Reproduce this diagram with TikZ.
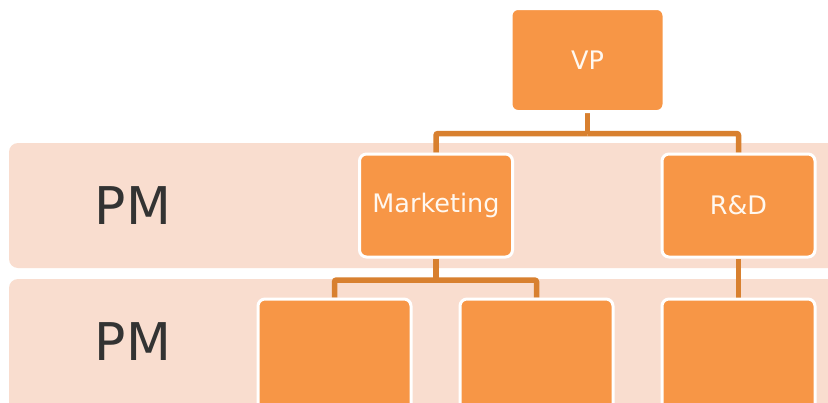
\documentclass[tikz,border=0pt]{standalone}
\usepackage{fontspec}
\setmainfont{DejaVu Sans}
\definecolor{boxor}{HTML}{F79646}
\definecolor{bandc}{HTML}{F9DDCF}
\definecolor{linec}{HTML}{D8802F}
\definecolor{pmtext}{HTML}{333333}
\definecolor{boxtext}{HTML}{FFF8F0}
\pgfdeclarelayer{bands}
\pgfdeclarelayer{lines}
\pgfsetlayers{bands,lines,main}
\tikzset{
  orgbox/.style={rectangle, rounded corners=7pt, fill=boxor, draw=white, line width=3pt,
    minimum width=153pt, minimum height=103pt, inner sep=0pt, text=boxtext,
    font=\fontsize{25.5}{29}\selectfont},
  lowbox/.style={orgbox, minimum height=112pt},
  conn/.style={draw=linec, line width=5.5pt, rounded corners=2pt},
  band/.style={fill=bandc, rounded corners=9pt},
  pmlabel/.style={text=pmtext, font=\fontsize{52}{60}\selectfont, inner sep=0pt}
}
\begin{document}
\begin{tikzpicture}[x=1pt,y=-1pt]
\useasboundingbox (0,0) rectangle (828,402);
\begin{pgfonlayer}{bands}
  \fill[white] (0,0) rectangle (828,402);
  \fill[band] (9,143) rectangle (850,268);
  \fill[band] (9,279) rectangle (850,425);
\end{pgfonlayer}
\node[pmlabel] (pm1) at (133,206) {PM};
\node[pmlabel] (pm2) at (133,342) {PM};
\node[orgbox] (vp) at (587.5,60) {VP};
\node[orgbox] (mk) at (436,205.5) {Marketing};
\node[orgbox] (rd) at (738.5,205.5) {R\&D};
\node[lowbox] (b1) at (334.5,355) {};
\node[lowbox] (b2) at (536.5,355) {};
\node[lowbox] (b3) at (738.5,355) {};
\coordinate (j1) at (587.5,133.5);
\coordinate (j2) at (436,280);
\begin{pgfonlayer}{lines}
  \draw[conn] (vp.south) -- (j1);
  \draw[conn] (j1) -| (mk.north);
  \draw[conn] (j1) -| (rd.north);
  \draw[conn] (mk.south) -- (j2);
  \draw[conn] (j2) -| (b1.north);
  \draw[conn] (j2) -| (b2.north);
  \draw[conn] (rd.south) -- (b3.north);
\end{pgfonlayer}
\end{tikzpicture}
\end{document}
